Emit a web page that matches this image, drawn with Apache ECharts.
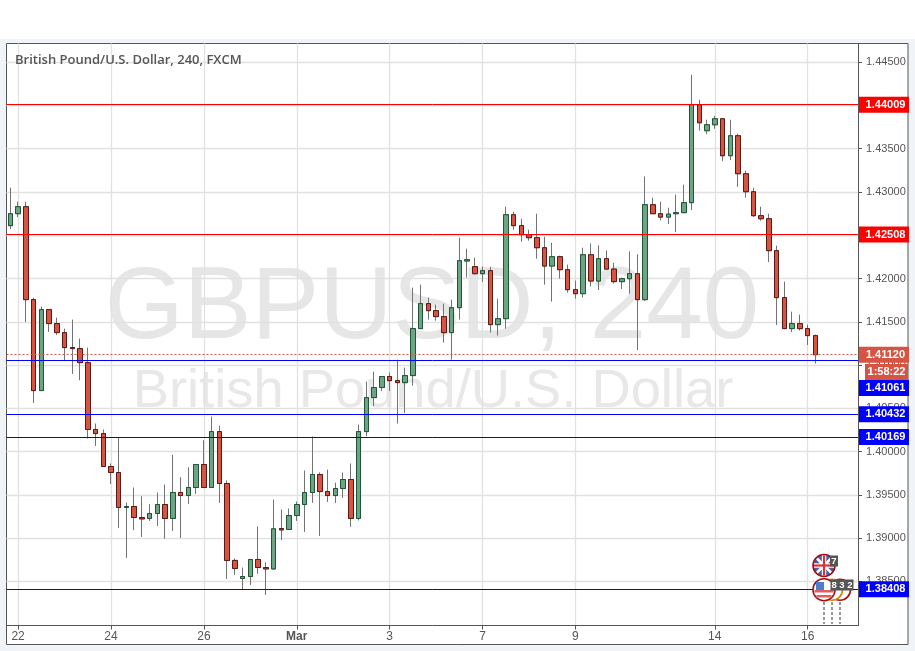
<!DOCTYPE html>
<html><head><meta charset="utf-8">
<style>html,body{margin:0;padding:0;background:#fff}#c{width:915px;height:651px}</style>
<script src="https://cdn.jsdelivr.net/npm/echarts@6/dist/echarts.min.js"></script>
</head><body><div id="c"></div>
<script>
const opens=[1.42611,1.42749,1.42830,1.41756,1.40705,1.41641,1.41479,1.41375,1.41202,1.41190,
1.41028,1.40255,1.40208,1.39827,1.39758,1.39354,1.39365,1.39238,1.39227,1.39284,
1.39388,1.39227,1.39527,1.39492,1.39585,1.39850,1.39585,1.40231,1.39631,1.38742,
1.38533,1.38556,1.38753,1.38660,1.38644,1.39111,1.39100,1.39261,1.39388,1.39527,
1.39735,1.39538,1.39492,1.39573,1.39677,1.39227,1.40231,1.40624,1.40740,1.40867,
1.40820,1.40797,1.40878,1.41421,1.41710,1.41629,1.41560,1.41375,1.41663,1.42202,
1.42137,1.42056,1.42091,1.41467,1.41536,1.42737,1.42611,1.42507,1.42472,1.42356,
1.42144,1.42252,1.42102,1.41871,1.41825,1.42275,1.41971,1.42229,1.42109,1.41964,
1.41998,1.42056,1.41756,1.42853,1.42749,1.42710,1.42749,1.42761,1.42877,1.44008,
1.43708,1.43777,1.43846,1.43419,1.43650,1.43211,1.43003,1.42726,1.42691,1.42322,
1.41779,1.41421,1.41479,1.41421,1.41340];
const closes=[1.42749,1.42830,1.41756,1.40705,1.41641,1.41479,1.41375,1.41202,1.41190,1.41028,
1.40255,1.40208,1.39827,1.39758,1.39354,1.39365,1.39238,1.39222,1.39284,1.39388,
1.39227,1.39527,1.39492,1.39585,1.39850,1.39585,1.40231,1.39631,1.38742,1.38649,
1.38556,1.38753,1.38660,1.38644,1.39107,1.39095,1.39261,1.39388,1.39527,1.39735,
1.39538,1.39492,1.39573,1.39677,1.39227,1.40231,1.40624,1.40740,1.40867,1.40820,
1.40797,1.40878,1.41421,1.41710,1.41629,1.41560,1.41375,1.41663,1.42206,1.42218,
1.42056,1.42091,1.41467,1.41536,1.42737,1.42611,1.42507,1.42472,1.42356,1.42144,
1.42252,1.42102,1.41871,1.41825,1.42275,1.41971,1.42229,1.42109,1.41964,1.41998,
1.42056,1.41756,1.42853,1.42749,1.42710,1.42744,1.42761,1.42877,1.44008,1.43800,
1.43777,1.43846,1.43419,1.43650,1.43211,1.43003,1.42726,1.42691,1.42322,1.41779,
1.41421,1.41479,1.41421,1.41340,1.41120];
const lows=[1.42572,1.42710,1.41497,1.40562,1.40705,1.41382,1.41347,1.41055,1.40897,1.40824,
1.40151,1.40065,1.39827,1.39625,1.39118,1.38772,1.39092,1.39014,1.39199,1.39141,
1.38991,1.39083,1.39002,1.39395,1.39511,1.39585,1.39585,1.39407,1.38529,1.38575,
1.38402,1.38459,1.38586,1.38344,1.38633,1.38980,1.39100,1.39199,1.39072,1.39407,
1.39025,1.39418,1.39407,1.39465,1.39130,1.39204,1.40177,1.40527,1.40700,1.40700,
1.40324,1.40446,1.40763,1.41421,1.41525,1.41513,1.41259,1.41063,1.41525,1.42010,
1.42044,1.41959,1.41375,1.41340,1.41421,1.42564,1.42426,1.42437,1.42229,1.41929,
1.41733,1.41998,1.41837,1.41767,1.41779,1.41909,1.41867,1.42109,1.41940,1.41878,
1.41825,1.41174,1.41740,1.42749,1.42672,1.42629,1.42536,1.42761,1.42791,1.43708,
1.43668,1.43731,1.43356,1.43368,1.43061,1.42934,1.42714,1.42668,1.42190,1.41462,
1.41421,1.41382,1.41398,1.41231,1.41017];
const highs=[1.43050,1.42888,1.42888,1.41779,1.41675,1.41641,1.41548,1.41421,1.41525,1.41306,
1.41202,1.40324,1.40255,1.39862,1.40162,1.39411,1.39585,1.39484,1.39392,1.39527,
1.39619,1.39962,1.39704,1.39819,1.39850,1.40131,1.40405,1.40300,1.39666,1.38765,
1.38660,1.38753,1.39134,1.38718,1.39446,1.39331,1.39342,1.39423,1.39781,1.40174,
1.39758,1.39792,1.39642,1.39758,1.39862,1.40312,1.40809,1.40924,1.40867,1.40913,
1.41063,1.40970,1.41895,1.41929,1.41779,1.41698,1.41710,1.41756,1.42472,1.42345,
1.42241,1.42137,1.42137,1.41767,1.42830,1.42772,1.42691,1.42564,1.42749,1.42483,
1.42414,1.42264,1.42160,1.41975,1.42356,1.42406,1.42383,1.42325,1.42183,1.42010,
1.42314,1.42279,1.43180,1.42934,1.42888,1.42818,1.42969,1.43084,1.44354,1.44066,
1.43835,1.43881,1.43846,1.43835,1.43673,1.43246,1.43050,1.42830,1.42749,1.42380,
1.41964,1.41617,1.41583,1.41467,1.41352];
const slotLabels={1:'22',13:'24',25:'26',37:'Mar',49:'3',61:'7',73:'9',91:'14',103:'16'};
const slotCount=110;
const categories=Array.from({length:slotCount},(_,i)=>slotLabels[i]||'');
const priceTicks=[1.385,1.39,1.395,1.40,1.405,1.41,1.415,1.42,1.425,1.43,1.435,1.44,1.445];
const priceMin=1.3799, priceMax=1.44716;
const redLevels=[1.44009,1.42508];
const blueLevels=[1.40432,1.40169,1.38408];
const shiftedLevel=1.41061;
const lastPrice=1.41120;
const countdown='1:58:22';
const title='British Pound/U.S. Dollar, 240, FXCM';
const wmBig='GBPUSD, 240', wmSmall='British Pound/U.S. Dollar';

const UP='#6ba583',UPB='#225437',DN='#d75442',DNB='#5b1a13',WICK='#737375',BLUE='#0000ff',RED='#ff0000';
const FONT='"Liberation Sans",Arial,sans-serif';
const full=opens.map((o,i)=>[o,closes[i],lows[i],highs[i]]);
const bodies=opens.map((o,i)=>[o,closes[i],Math.min(o,closes[i]),Math.max(o,closes[i])]);

function lvl(v,color){
  return {yAxis:v,lineStyle:{color:color,width:1,type:'solid'},
    label:{show:true,position:'end',distance:0,formatter:v.toFixed(5),color:'#fff',backgroundColor:color,
      fontFamily:FONT,fontWeight:'bold',fontSize:11,width:47,height:16,lineHeight:16,align:'center',verticalAlign:'middle',padding:[0,0,0,3],offset:[26,0]}};
}
const marks=[...redLevels.map(v=>lvl(v,RED)),...blueLevels.map(v=>lvl(v,BLUE))];
marks.push((()=>{const m=lvl(shiftedLevel,BLUE);m.label.offset=[26,28.3];return m;})());
marks.push((()=>{const m=lvl(lastPrice,DN);m.lineStyle={color:DN,width:1,type:[2,2]};return m;})());

const graphic=[
  {type:'rect',z:-10,silent:true,shape:{x:0,y:39,width:915,height:612},style:{fill:'#f0f3f7'}},
  {type:'rect',z:-9,silent:true,shape:{x:6.5,y:43.5,width:901.5,height:601},style:{fill:'#fff',stroke:'#555',lineWidth:1}},
  {type:'text',z:-8,silent:true,x:432,y:310,style:{text:wmBig,fill:'#e6e6e6',font:'101.5px '+FONT,textAlign:'center',textVerticalAlign:'middle'}},
  {type:'text',z:-8,silent:true,x:433,y:392,style:{text:wmSmall,fill:'#e8e8e8',font:'54.3px '+FONT,textAlign:'center',textVerticalAlign:'middle'}},
  {type:'text',z:50,silent:true,x:15,y:60,style:{text:title,fill:'#555',font:'600 13px "Open Sans",sans-serif',textVerticalAlign:'middle'}},
  {type:'rect',z:50,silent:true,shape:{x:865,y:364,width:43,height:16},style:{fill:DN}},
  {type:'text',z:51,silent:true,x:886.5,y:372,style:{text:countdown,fill:'#fff',font:'bold 11px '+FONT,textAlign:'center',textVerticalAlign:'middle'}}
];
// event markers
[824,832,840].forEach(x=>graphic.push({type:'line',z:40,silent:true,shape:{x1:x,y1:602,x2:x,y2:624},style:{stroke:'#999',lineWidth:2,lineDash:[3,2]}}));
graphic.push({type:'circle',z:41,silent:true,shape:{cx:840,cy:589.7,r:10.5},style:{fill:'#fff',stroke:'#b00f0f',lineWidth:1.6}});
graphic.push({type:'circle',z:42,silent:true,shape:{cx:832,cy:589.7,r:10.5},style:{fill:'#fff',stroke:'#d9820f',lineWidth:1.6}});
// UK
graphic.push({type:'circle',z:43,silent:true,shape:{cx:824,cy:565.5,r:11},style:{fill:'#4a5fa8',stroke:'#a50e0e',lineWidth:1.6}});
[[817,558.5,831,572.5],[831,558.5,817,572.5]].forEach(l=>graphic.push({type:'line',z:44,silent:true,shape:{x1:l[0],y1:l[1],x2:l[2],y2:l[3]},style:{stroke:'#fff',lineWidth:2.5}}));
graphic.push({type:'line',z:44,silent:true,shape:{x1:824,y1:555.5,x2:824,y2:575.5},style:{stroke:'#fff',lineWidth:4.5}});
graphic.push({type:'line',z:44,silent:true,shape:{x1:814,y1:565.5,x2:834,y2:565.5},style:{stroke:'#fff',lineWidth:4.5}});
graphic.push({type:'line',z:45,silent:true,shape:{x1:824,y1:555.5,x2:824,y2:575.5},style:{stroke:'#d8323c',lineWidth:2.2}});
graphic.push({type:'line',z:45,silent:true,shape:{x1:814,y1:565.5,x2:834,y2:565.5},style:{stroke:'#d8323c',lineWidth:2.2}});
// US
graphic.push({type:'circle',z:43,silent:true,shape:{cx:824,cy:589.7,r:11},style:{fill:'#fff',stroke:'#a50e0e',lineWidth:1.6}});
graphic.push({type:'rect',z:44,silent:true,shape:{x:814.5,y:590,width:19,height:2.5},style:{fill:'#e0605f'}});
graphic.push({type:'rect',z:44,silent:true,shape:{x:816.5,y:595,width:15,height:2.5},style:{fill:'#e0605f'}});
graphic.push({type:'rect',z:44,silent:true,shape:{x:816,y:582,width:8,height:8},style:{fill:'#4a7fd0'}});
// badges
graphic.push({type:'rect',z:46,silent:true,shape:{x:830,y:555.5,width:8,height:11},style:{fill:'#555'}});
graphic.push({type:'text',z:47,silent:true,x:834,y:561.2,style:{text:'7',fill:'#fff',font:'bold 9.5px '+FONT,textAlign:'center',textVerticalAlign:'middle'}});
graphic.push({type:'rect',z:46,silent:true,shape:{x:830.5,y:579.5,width:23,height:11},style:{fill:'#555'}});
graphic.push({type:'text',z:47,silent:true,x:842,y:585.2,style:{text:'8 3 2',fill:'#fff',font:'bold 9.5px '+FONT,textAlign:'center',textVerticalAlign:'middle'}});

const chart=echarts.init(document.getElementById('c'),null,{renderer:'canvas'});
const shown=(i,v)=>v!=='';
chart.setOption({
  animation:false,
  backgroundColor:'transparent',
  graphic:graphic,
  grid:{left:6.5,top:43.5,width:851.5,height:582,containLabel:false},
  xAxis:{type:'category',data:categories,boundaryGap:true,
    axisLine:{lineStyle:{color:'#555',width:1}},
    axisTick:{show:true,alignWithLabel:true,interval:shown,length:4,lineStyle:{color:'#555'}},
    splitLine:{show:true,alignWithLabel:true,interval:shown,lineStyle:{color:'#e1e1e1',width:1.3}},
    axisLabel:{show:true,interval:shown,margin:5,color:'#555',fontFamily:FONT,fontSize:12,
      rich:{b:{fontWeight:'bold',color:'#555',fontFamily:FONT,fontSize:12}},
      formatter:v=>v==='Mar'?'{b|Mar}':v}},
  yAxis:{type:'value',position:'right',min:priceMin,max:priceMax,scale:true,
    axisLine:{show:true,lineStyle:{color:'#555',width:1}},
    axisTick:{show:true,length:4,customValues:priceTicks,lineStyle:{color:'#555'}},
    splitLine:{show:true,lineStyle:{color:'#e1e1e1',width:1.3}},
    axisLabel:{show:true,customValues:priceTicks,margin:8,color:'#555',fontFamily:FONT,fontSize:11,formatter:v=>v.toFixed(5)}},
  series:[
    {type:'candlestick',name:'wicks',data:full,barWidth:5,z:3,
     itemStyle:{color:UP,color0:DN,borderColor:WICK,borderColor0:WICK,borderWidth:1},
     markLine:{silent:true,symbol:'none',animation:false,precision:5,z:6,data:marks}},
    {type:'candlestick',name:'bodies',data:bodies,barWidth:5,z:4,
     itemStyle:{color:UP,color0:DN,borderColor:UPB,borderColor0:DNB,borderWidth:1}}
  ]
});
</script></body></html>
